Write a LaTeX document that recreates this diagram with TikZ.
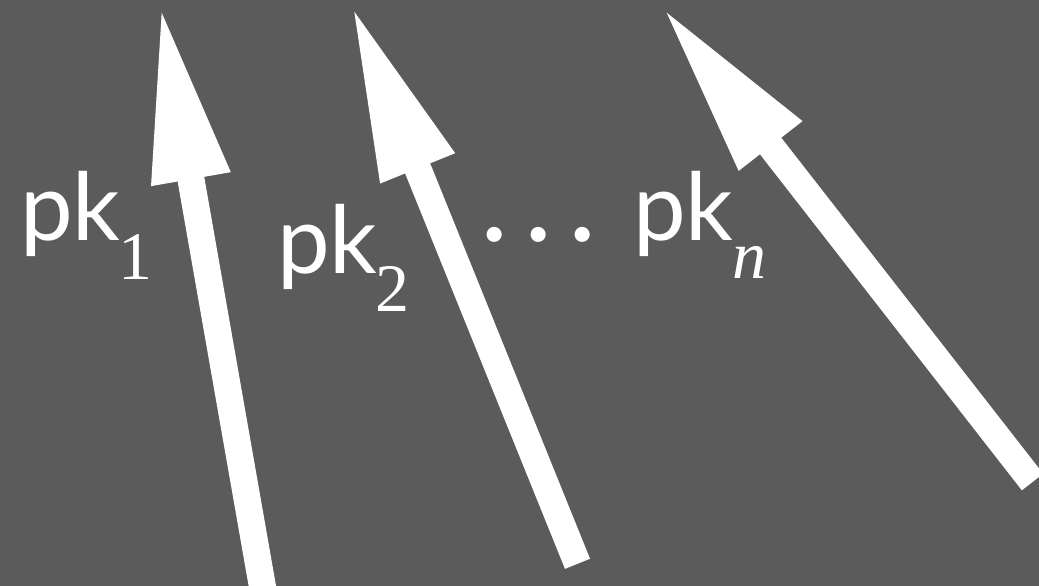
\documentclass[tikz,border=0pt]{standalone}
\usepackage{fontspec}
\setmainfont{Lato}
\newfontfamily\subfont{Liberation Serif}
\usetikzlibrary{calc}
\definecolor{bgcol}{RGB}{91,91,91}
\tikzset{
  shaft/.style={draw=white,line width=27pt,line cap=butt},
  head/.style={fill=white},
  pklabel/.style={text=white,inner sep=0pt,anchor=base west,font=\fontsize{94}{94}\selectfont},
  sublabel/.style={text=white,inner sep=0pt,anchor=base west,font=\subfont\fontsize{68}{68}\selectfont},
}
\newcommand{\bigarrow}[3]{%
  \coordinate (#1b) at ($(#2)!169pt!(#3)$);
  \coordinate (#1s) at ($(#2)!160pt!(#3)$);
  \coordinate (#1l) at ($(#1b)!40.5pt!90:(#2)$);
  \coordinate (#1r) at ($(#1b)!40.5pt!-90:(#2)$);
  \draw[shaft] (#3) -- (#1s);
  \fill[head] (#2) -- (#1l) -- (#1r) -- cycle;
}
\begin{document}
\begin{tikzpicture}[x=1pt,y=-1pt]
\useasboundingbox (0,0) rectangle (1039,586);
\fill[bgcol] (0,0) rectangle (1039,586);
\clip (0,0) rectangle (1039,586);
% tips and tails
\coordinate (p1) at (161.7,12.7);
\coordinate (t1) at (264.8,600);
\coordinate (p2) at (354.3,11.7);
\coordinate (t2) at (577.5,563.8);
\coordinate (p3) at (666.7,12.7);
\coordinate (t3) at (1032.5,482);
\bigarrow{a1}{p1}{t1}
\bigarrow{a2}{p2}{t2}
\bigarrow{a3}{p3}{t3}
% labels
\node[pklabel] (pk1) at (20,240) {pk};
\node[sublabel] (s1) at (118,279.3) {1};
\node[pklabel] (pk2) at (277,273.3) {pk};
\node[sublabel] (s2) at (375,311.7) {2};
\node[text=white,inner sep=0pt,anchor=base,font=\fontsize{120}{120}\selectfont] (dots) at (538.8,241.8)
  {\makebox[43.8pt]{.}\makebox[43.8pt]{.}\makebox[43.8pt]{.}};
\node[pklabel] (pkn) at (633,240) {pk};
\node[sublabel,font=\subfont\itshape\fontsize{68}{68}\selectfont] (sn) at (732,278.3) {n};
\end{tikzpicture}
\end{document}
